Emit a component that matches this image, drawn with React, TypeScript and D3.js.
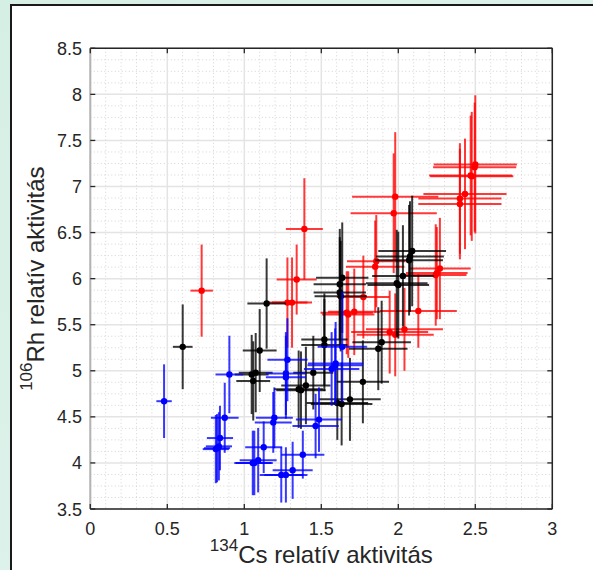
import React from 'react';
import * as d3 from 'd3';

// ---- Data ----
const redX = [0.723, 1.39, 1.34, 1.28, 1.31, 1.675, 1.665, 1.714, 1.773, 1.857, 1.85, 1.944, 1.98, 2.04, 2.13, 2.243, 2.27, 2.25, 1.98, 1.97, 2.477, 2.47, 2.496, 2.5, 2.4, 2.4, 2.433];
const redY = [5.87, 6.54, 5.99, 5.74, 5.74, 5.61, 5.63, 5.64, 5.8, 6.19, 6.13, 5.42, 5.39, 5.45, 5.65, 6.04, 6.11, 6.06, 6.89, 6.71, 7.11, 7.12, 7.21, 7.24, 6.81, 6.87, 6.92];
const redXErr = [0.073, 0.12, 0.13, 0.13, 0.13, 0.17, 0.17, 0.17, 0.17, 0.19, 0.19, 0.25, 0.25, 0.25, 0.25, 0.2, 0.2, 0.2, 0.28, 0.28, 0.27, 0.27, 0.27, 0.27, 0.27, 0.27, 0.27];
const redYErr = [0.5, 0.55, 0.38, 0.49, 0.49, 0.47, 0.45, 0.47, 0.45, 0.5, 0.5, 0.45, 0.45, 0.45, 0.4, 0.55, 0.55, 0.5, 0.7, 0.65, 0.7, 0.65, 0.7, 0.75, 0.6, 0.6, 0.6];

const blackX = [0.6, 1.145, 1.1, 1.048, 1.074, 1.058, 1.448, 1.353, 1.368, 1.4, 1.636, 1.62, 1.62, 1.626, 1.52, 1.52, 1.77, 1.686, 1.632, 1.604, 1.892, 1.87, 2.0, 1.99, 2.03, 2.07, 2.076, 2.09];
const blackY = [5.26, 5.73, 5.22, 4.96, 4.98, 4.89, 4.98, 4.8, 4.79, 4.84, 6.01, 5.94, 5.85, 5.81, 5.34, 5.28, 4.88, 4.69, 4.64, 4.65, 5.31, 5.24, 5.93, 5.95, 6.03, 6.2, 6.24, 6.3];
const blackXErr = [0.064, 0.125, 0.11, 0.11, 0.11, 0.11, 0.13, 0.16, 0.16, 0.16, 0.17, 0.17, 0.17, 0.17, 0.15, 0.15, 0.17, 0.2, 0.2, 0.2, 0.19, 0.19, 0.2, 0.2, 0.2, 0.22, 0.22, 0.22];
const blackYErr = [0.46, 0.49, 0.45, 0.43, 0.43, 0.43, 0.4, 0.42, 0.42, 0.42, 0.6, 0.6, 0.6, 0.6, 0.5, 0.5, 0.45, 0.45, 0.45, 0.4, 0.45, 0.45, 0.58, 0.58, 0.55, 0.6, 0.6, 0.6];

const blueX = [0.479, 0.903, 0.873, 0.842, 0.823, 0.835, 0.815, 1.195, 1.188, 1.126, 1.09, 1.055, 1.065, 1.38, 1.314, 1.24, 1.27, 1.485, 1.463, 1.567, 1.59, 1.636, 1.593, 1.28, 1.27, 1.27];
const blueY = [4.67, 4.96, 4.49, 4.27, 4.16, 4.18, 4.15, 4.49, 4.44, 4.17, 4.03, 4.0, 4.0, 4.09, 3.92, 3.87, 3.87, 4.47, 4.4, 5.02, 5.06, 5.26, 5.08, 5.12, 4.97, 4.93];
const blueXErr = [0.05, 0.09, 0.09, 0.085, 0.085, 0.085, 0.085, 0.12, 0.12, 0.12, 0.12, 0.12, 0.12, 0.14, 0.13, 0.14, 0.14, 0.15, 0.15, 0.18, 0.18, 0.16, 0.18, 0.13, 0.13, 0.13];
const blueYErr = [0.4, 0.42, 0.38, 0.35, 0.37, 0.37, 0.37, 0.33, 0.33, 0.28, 0.35, 0.35, 0.35, 0.26, 0.31, 0.3, 0.3, 0.35, 0.35, 0.4, 0.4, 0.6, 0.45, 0.45, 0.45, 0.45];

const xTickValues = [0, 0.5, 1, 1.5, 2, 2.5, 3];
const xTickLabels = ['0', '0.5', '1', '1.5', '2', '2.5', '3'];
const yTickValues = [3.5, 4, 4.5, 5, 5.5, 6, 6.5, 7, 7.5, 8, 8.5];
const yTickLabels = ['3.5', '4', '4.5', '5', '5.5', '6', '6.5', '7', '7.5', '8', '8.5'];

const W = 593;
const H = 570;
const PLOT = { left: 90.3, right: 552.3, top: 48.3, bottom: 509 };
const FONT = "'Liberation Sans', Arial, Helvetica, sans-serif";
const TEXT = '#262626';

const xScale = d3.scaleLinear().domain([0, 3]).range([PLOT.left, PLOT.right]);
const yScale = d3.scaleLinear().domain([3.5, 8.5]).range([PLOT.bottom, PLOT.top]);

const xMinor = d3.range(0, 30).map((i) => i / 10).filter((v) => Math.abs(v * 2 - Math.round(v * 2)) > 1e-6);
const yMinor = d3.range(0, 41).map((i) => 3.5 + i * 0.125).filter((v) => Math.abs(v * 2 - Math.round(v * 2)) > 1e-6);

type Series = { xs: number[]; ys: number[]; xe: number[]; ye: number[]; color: string };

const series: Series[] = [
  { xs: redX, ys: redY, xe: redXErr, ye: redYErr, color: '#ff0000' },
  { xs: blackX, ys: blackY, xe: blackXErr, ye: blackYErr, color: '#000000' },
  { xs: blueX, ys: blueY, xe: blueXErr, ye: blueYErr, color: '#0000ff' },
];

function ErrorSeries({ s }: { s: Series }) {
  return (
    <g>
      {s.xs.map((x, i) => (
        <g key={i} stroke={s.color} strokeWidth={2} strokeOpacity={0.78}>
          <line x1={xScale(x - s.xe[i])} x2={xScale(x + s.xe[i])} y1={yScale(s.ys[i])} y2={yScale(s.ys[i])} />
          <line x1={xScale(x)} x2={xScale(x)} y1={yScale(s.ys[i] - s.ye[i])} y2={yScale(s.ys[i] + s.ye[i])} />
        </g>
      ))}
      {s.xs.map((x, i) => (
        <circle key={'c' + i} cx={xScale(x)} cy={yScale(s.ys[i])} r={3.2} fill={s.color} />
      ))}
    </g>
  );
}

export default function App() {
  return (
    <div style={{ position: 'fixed', left: 0, top: 0, width: W, height: H, overflow: 'hidden' }}>
      <svg width={W} height={H} style={{ display: 'block' }}>
        <defs>
          <linearGradient id="bg" x1="0" y1="0" x2="1" y2="1">
            <stop offset="0" stopColor="#d6efe5" />
            <stop offset="1" stopColor="#e2f4ee" />
          </linearGradient>
        </defs>
        <rect x={0} y={0} width={W} height={H} fill="url(#bg)" />
        <rect x={11} y={5} width={W + 20} height={H + 20} fill="#ffffff" stroke="#1a1a1a" strokeWidth={2} />

        {/* minor grid */}
        <g stroke="#d4d4d4" strokeWidth={1} strokeDasharray="1 2.5">
          {xMinor.map((v) => (
            <line key={'xm' + v} x1={xScale(v)} x2={xScale(v)} y1={PLOT.top} y2={PLOT.bottom} />
          ))}
          {yMinor.map((v) => (
            <line key={'ym' + v} x1={PLOT.left} x2={PLOT.right} y1={yScale(v)} y2={yScale(v)} />
          ))}
        </g>
        {/* major grid */}
        <g stroke="#e4e4e4" strokeWidth={1.5}>
          {xTickValues.map((v) => (
            <line key={'xg' + v} x1={xScale(v)} x2={xScale(v)} y1={PLOT.top} y2={PLOT.bottom} />
          ))}
          {yTickValues.map((v) => (
            <line key={'yg' + v} x1={PLOT.left} x2={PLOT.right} y1={yScale(v)} y2={yScale(v)} />
          ))}
        </g>

        {/* data */}
        <g>
          {series.map((s, i) => (
            <ErrorSeries key={i} s={s} />
          ))}
        </g>

        {/* box */}
        <g stroke="#262626" strokeWidth={1.5} fill="none">
          <line x1={PLOT.left} x2={PLOT.right} y1={PLOT.top} y2={PLOT.top} />
          <line x1={PLOT.left} x2={PLOT.right} y1={PLOT.bottom} y2={PLOT.bottom} />
          <line x1={PLOT.right} x2={PLOT.right} y1={PLOT.top} y2={PLOT.bottom} />
        </g>
        <line x1={PLOT.left} x2={PLOT.left} y1={PLOT.top} y2={PLOT.bottom} stroke="#b3b3b3" strokeWidth={2} />
        {/* ticks */}
        <g stroke="#262626" strokeWidth={1.3}>
          {xTickValues.map((v) => (
            <g key={'xt' + v}>
              <line x1={xScale(v)} x2={xScale(v)} y1={PLOT.bottom} y2={PLOT.bottom - 5} />
              <line x1={xScale(v)} x2={xScale(v)} y1={PLOT.top} y2={PLOT.top + 5} />
            </g>
          ))}
          {yTickValues.map((v) => (
            <g key={'yt' + v}>
              <line x1={PLOT.left} x2={PLOT.left + 5} y1={yScale(v)} y2={yScale(v)} />
              <line x1={PLOT.right} x2={PLOT.right - 5} y1={yScale(v)} y2={yScale(v)} />
            </g>
          ))}
        </g>

        {/* tick labels */}
        <g fontFamily={FONT} fontSize={18} fill={TEXT}>
          {xTickValues.map((v, i) => (
            <text key={'xl' + v} x={xScale(v)} y={535} textAnchor="middle">
              {xTickLabels[i]}
            </text>
          ))}
          {yTickValues.map((v, i) => (
            <text key={'yl' + v} x={82} y={yScale(v) + 6.5} textAnchor="end">
              {yTickLabels[i]}
            </text>
          ))}
        </g>

        {/* axis titles */}
        <text x={(PLOT.left + PLOT.right) / 2} y={563} textAnchor="middle" fontFamily={FONT} fontSize={24} fill={TEXT}>
          <tspan fontSize={17} dy={-12}>134</tspan>
          <tspan dy={12}>Cs relatív aktivitás</tspan>
        </text>
        <text
          transform={`translate(44, ${(PLOT.top + PLOT.bottom) / 2}) rotate(-90)`}
          textAnchor="middle"
          fontFamily={FONT}
          fontSize={24}
          fill={TEXT}
        >
          <tspan fontSize={17} dy={-12}>106</tspan>
          <tspan dy={12}>Rh relatív aktivitás</tspan>
        </text>
      </svg>
    </div>
  );
}
